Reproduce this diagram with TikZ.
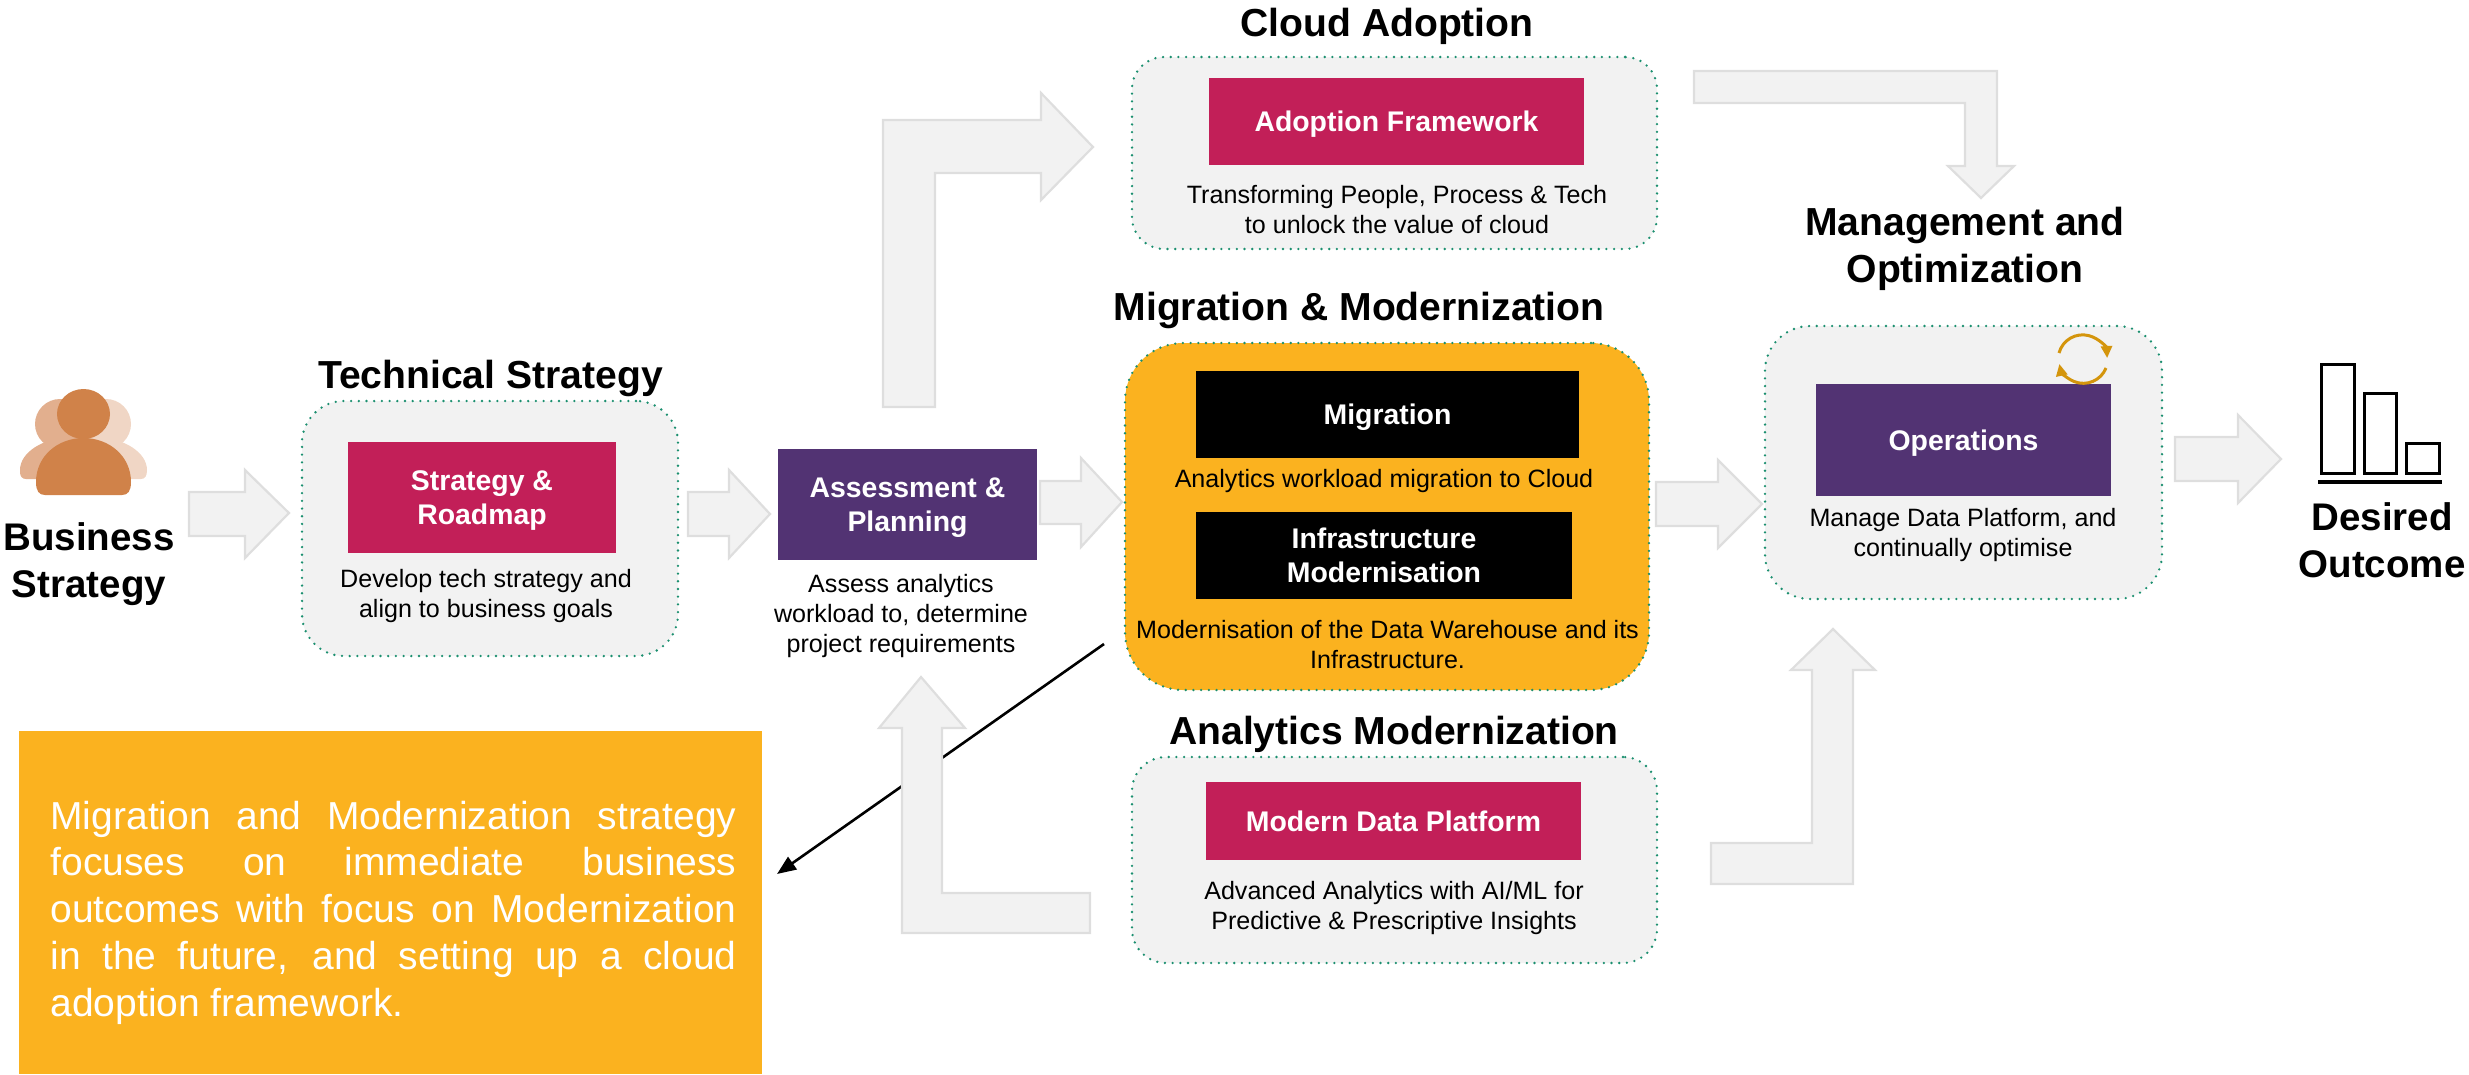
\documentclass[tikz,border=0pt]{standalone}
\usepackage{fontspec}
\setmainfont{Liberation Sans}
\usetikzlibrary{arrows.meta}
\definecolor{panelgray}{HTML}{F2F2F2}
\definecolor{arrowedge}{HTML}{DEDEDE}
\definecolor{dotgreen}{HTML}{1B8F6F}
\definecolor{berry}{HTML}{C21F58}
\definecolor{plum}{HTML}{523373}
\definecolor{amber}{HTML}{FBB21F}
\definecolor{cyclegold}{HTML}{D4950C}
\definecolor{personfront}{HTML}{D08249}
\definecolor{personmid}{HTML}{E2AF8E}
\definecolor{personback}{HTML}{F0D6C5}
\newcommand{\nodepth}[1]{\raisebox{0pt}[\height][0pt]{#1}}
\tikzset{
  panel/.style={fill=panelgray,draw=dotgreen,line width=2.6pt,line cap=round,dash pattern=on 0pt off 7.7pt,inner sep=0pt,outer sep=0pt},
  block/.style={inner sep=0pt,outer sep=0pt,text=white,align=center,font=\fontsize{28.4}{34}\bfseries\selectfont,text height=20pt,text depth=0pt},
  block2/.style={inner sep=0pt,outer sep=0pt,text=white,align=center,font=\fontsize{28.4}{34}\bfseries\selectfont},
  heading/.style={anchor=base,inner sep=0pt,align=center,font=\fontsize{39.1}{46.5}\bfseries\selectfont},
  sideheading/.style={anchor=base,inner sep=0pt,align=center,font=\fontsize{38.5}{47}\bfseries\selectfont},
  body/.style={anchor=base,inner sep=0pt,align=center,font=\fontsize{25.1}{30}\selectfont},
  blockarrow/.style={fill=panelgray,draw=arrowedge,line width=2.2pt,line join=miter},
}
\begin{document}
\begin{tikzpicture}[x=1pt,y=-1pt]
\useasboundingbox (0,0) rectangle (2469,1074);

% people icon
\fill[personback] (106,424) ellipse [x radius=25pt,y radius=25pt];
\fill[personback] (52,472) .. controls (52,452) and (76,438) .. (99.5,438) .. controls (123,438) and (147,452) .. (147,470) .. controls (147,476) and (145,479) .. (141,479) -- (52,479) -- cycle;
\fill[personmid] (60,424) ellipse [x radius=25pt,y radius=25pt];
\fill[personmid] (20,470) .. controls (20,452) and (44,438) .. (67.5,438) .. controls (91,438) and (115,452) .. (115,470) -- (115,479) -- (26,479) .. controls (22,479) and (20,476) .. (20,472) -- cycle;
\fill[personfront] (83.5,414) ellipse [x radius=26.5pt,y radius=25pt];
\fill[personfront] (36,482) .. controls (36,456) and (58,438) .. (83.5,438) .. controls (109,438) and (131,456) .. (131,482) .. controls (131,491) and (128,495) .. (122,495) -- (45,495) .. controls (39,495) and (36,491) .. (36,482) -- cycle;
\node[sideheading] (business) at (89,597) {Business\\Strategy};

% callout connector, behind the bent arrow
\coordinate (calloutStart) at (1104,644);
\coordinate (calloutEnd) at (777,874);
\draw[line width=2.6pt,-{Triangle[length=19pt,width=15pt]}] (calloutStart) -- (calloutEnd);

% block arrows
\draw[blockarrow] (189,492) -- (245,492) -- (245,470) -- (289,513) -- (245,558) -- (245,536) -- (189,536) -- cycle;
\draw[blockarrow] (688,492) -- (729,492) -- (729,470) -- (770,514) -- (729,558) -- (729,536) -- (688,536) -- cycle;
\draw[blockarrow] (1040,481) -- (1081,481) -- (1081,458) -- (1122,502) -- (1081,547) -- (1081,524) -- (1040,524) -- cycle;
\draw[blockarrow] (1656,482) -- (1718,482) -- (1718,460) -- (1762,504) -- (1718,548) -- (1718,526) -- (1656,526) -- cycle;
\draw[blockarrow] (2175,437) -- (2238,437) -- (2238,415) -- (2281,459) -- (2238,503) -- (2238,481) -- (2175,481) -- cycle;
\draw[blockarrow] (883,407) -- (883,120) -- (1041,120) -- (1041,93) -- (1093,147) -- (1041,200) -- (1041,173) -- (935,173) -- (935,407) -- cycle;
\draw[blockarrow] (1694,71) -- (1997,71) -- (1997,166) -- (2014,166) -- (1981,198) -- (1948,166) -- (1965,166) -- (1965,103) -- (1694,103) -- cycle;
\draw[blockarrow] (921,677) -- (965,728) -- (942,728) -- (942,893) -- (1090,893) -- (1090,933) -- (902,933) -- (902,728) -- (879,728) -- cycle;
\draw[blockarrow] (1833,629) -- (1875,670) -- (1853,670) -- (1853,884) -- (1711,884) -- (1711,843) -- (1812,843) -- (1812,670) -- (1791,670) -- cycle;

% technical strategy
\node[heading] (techhead) at (490.5,388) {Technical Strategy};
\node[panel,rounded corners=42pt,minimum width=376pt,minimum height=255pt] (techpanel) at (490,528.5) {};
\node[block2,fill=berry,minimum width=268pt,minimum height=111pt] (roadmap) at (482,497.5) {Strategy \&\\\nodepth{Roadmap}};
\node[body] (techtext) at (486,617) {Develop tech strategy and\\align to business goals};

% assessment
\node[block2,fill=plum,minimum width=259pt,minimum height=111pt] (assess) at (907.5,504.5) {Assessment \&\\\nodepth{Planning}};
\node[body] (assesstext) at (901,652) {Assess analytics\\workload to, determine\\project requirements};

% cloud adoption
\node[heading] (cloudhead) at (1387,36) {Cloud Adoption};
\node[panel,rounded corners=32pt,minimum width=525pt,minimum height=192pt] (cloudpanel) at (1394.5,153) {};
\node[block,fill=berry,minimum width=375pt,minimum height=87pt] (adoption) at (1396.5,121.5) {Adoption Framework};
\node[body] (cloudtext) at (1397,233.5) {Transforming People, Process \& Tech\\to unlock the value of cloud};

% migration and modernization
\node[heading] (mighead) at (1359,320) {Migration \& Modernization};
\node[panel,fill=amber,rounded corners=58pt,minimum width=524pt,minimum height=347pt] (migpanel) at (1387,516.5) {};
\node[block,fill=black,minimum width=383pt,minimum height=87pt] (migration) at (1387.5,414.5) {Migration};
\node[body] (migtext) at (1384,487) {Analytics workload migration to Cloud};
\node[block2,fill=black,minimum width=376pt,minimum height=87pt] (infra) at (1384,555.5) {Infrastructure\\\nodepth{Modernisation}};
\node[body] (infratext) at (1387.5,668) {Modernisation of the Data Warehouse and its\\Infrastructure.};

% analytics modernization
\node[heading] (anahead) at (1394,744) {Analytics Modernization};
\node[panel,rounded corners=34pt,minimum width=525pt,minimum height=206pt] (anapanel) at (1394.5,860) {};
\node[block,fill=berry,minimum width=375pt,minimum height=78pt] (platform) at (1393.5,821) {Modern Data Platform};
\node[body] (anatext) at (1394,929) {Advanced Analytics with AI/ML for\\Predictive \& Prescriptive Insights};

% management and optimization
\node[heading] (opshead) at (1965,282) {Management and\\Optimization};
\node[panel,rounded corners=45pt,minimum width=397pt,minimum height=273pt] (opspanel) at (1963.5,462.5) {};
\node[block,fill=plum,minimum width=295pt,minimum height=112pt] (operations) at (1963.5,440) {Operations};
\node[body] (opstext) at (1963,556) {Manage Data Platform, and\\continually optimise};
\draw[cyclegold,line width=3pt,-{Triangle[length=12pt,width=11pt]}] (2059,353) arc[start angle=165,end angle=3,radius=24.5pt];
\draw[cyclegold,line width=3pt,-{Triangle[length=12pt,width=11pt]}] (2106,368) arc[start angle=-22,end angle=-168,radius=24.5pt];

% desired outcome
\draw[line width=3pt] (2321,364) rectangle (2354,473);
\draw[line width=3pt] (2364,393) rectangle (2396,473);
\draw[line width=3pt] (2406,443) rectangle (2439,473);
\draw[line width=3.4pt] (2318,482) -- (2442,482);
\node[sideheading] (outcome) at (2382,577) {Desired\\Outcome};

% callout
\node[fill=amber,inner sep=0pt,outer sep=0pt,minimum width=743pt,minimum height=343pt] (callout) at (390.5,902.5) {};
\node[anchor=base,inner sep=0pt,text=white,text width=686pt,align=justify,font=\fontsize{39}{46.75}\selectfont] (callouttext) at (393.5,829) {\tolerance=10000 Migration and Modernization strategy\linebreak focuses on immediate business\linebreak outcomes with focus on Modernization\linebreak in the future, and setting up a cloud\linebreak adoption framework.};
\end{tikzpicture}
\end{document}
